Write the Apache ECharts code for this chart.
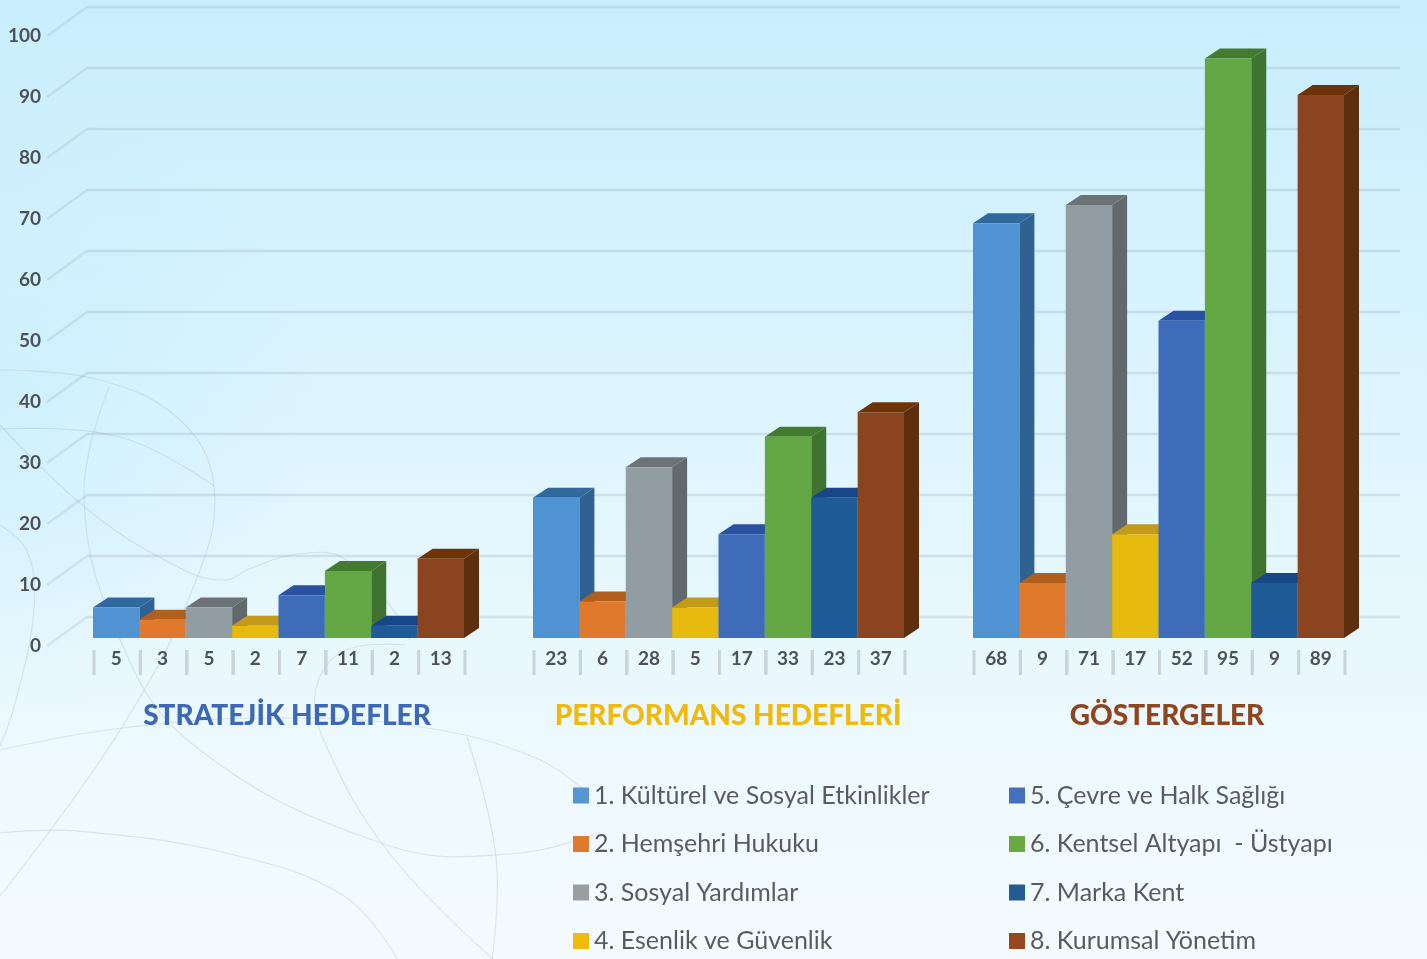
<!DOCTYPE html>
<html>
<head>
<meta charset="utf-8">
<title>Hedefler</title>
<script src="https://cdn.jsdelivr.net/npm/echarts@6/dist/echarts.min.js"></script>
<style>
html, body { margin: 0; padding: 0; background: #eaf8fe; }
#main { width: 1427px; height: 959px; }
</style>
</head>
<body>
<div id="main"></div>
<script>
// kategoriler
var categories = [
  '1. Kültürel ve Sosyal Etkinlikler',
  '2. Hemşehri Hukuku',
  '3. Sosyal Yardımlar',
  '4. Esenlik ve Güvenlik',
  '5. Çevre ve Halk Sağlığı',
  '6. Kentsel Altyapı  - Üstyapı',
  '7. Marka Kent',
  '8. Kurumsal Yönetim'
];
var groupTitles = ['STRATEJİK HEDEFLER', 'PERFORMANS HEDEFLERİ', 'GÖSTERGELER'];
var stratejik = [5, 3, 5, 2, 7, 11, 2, 13];
var performans = [23, 6, 28, 5, 17, 33, 23, 37];
var gostergeler = [68, 9, 71, 17, 52, 95, 9, 89];
var yTicks = [0, 10, 20, 30, 40, 50, 60, 70, 80, 90, 100];

var groups = [stratejik, performans, gostergeler];
var gridLefts = [93, 533, 973];
var titleCenters = [287, 728, 1167];
var titleColors = ['#3d68b5', '#f0b90f', '#8f451f'];

var legendColors = ['#5596d3', '#dd7a2f', '#9a9ea1', '#f2b90f', '#4470bd', '#6aa842', '#235c92', '#97461f'];
var frontColors = ['#4f93d2', '#e0792c', '#929da3', '#e6ba0e', '#3e6cb9', '#63a844', '#1f5b98', '#8a4520'];
var topColors = ['#31699f', '#b0601c', '#6c7376', '#c49a1a', '#2a52a0', '#437c2e', '#174689', '#6e3408'];
var sideColors = ['#2f6192', '#a85a1a', '#62696d', '#b98f14', '#274c96', '#3f7430', '#15417f', '#5e2f0c'];

// arka plandaki ince egriler
var bgCurves = [
  [[0, 370], [100, 380], [180, 420], [214, 486], [197, 578], [122, 727], [0, 896]],
  [[0, 429], [120, 437], [214, 486]],
  [[109, 387], [84, 494], [115, 628], [191, 743], [390, 846], [520, 853], [600, 832]],
  [[0, 425], [92, 513], [184, 570], [226, 580], [249, 569], [298, 554], [345, 559], [398, 616], [410, 640]],
  [[0, 525], [27, 551], [34, 609], [15, 704], [0, 746]],
  [[0, 750], [115, 729], [268, 718], [421, 727], [536, 758], [590, 795]],
  [[405, 645], [344, 651], [316, 689], [325, 743], [390, 854], [494, 960]],
  [[467, 737], [496, 857], [492, 960]],
  [[0, 833], [77, 831], [230, 854], [344, 896], [398, 960]]
];

var depthX = 15;
var depthY = -10;

function tickLine(x, y0) {
  return {
    type: 'line',
    shape: { x1: x, y1: y0 + 12, x2: x, y2: y0 + 37 },
    style: { stroke: '#c9d3d9', lineWidth: 3 }
  };
}

function renderBar(c) {
  return function (params, api) {
    var top = api.coord([api.value(0), api.value(1)]);
    var base = api.coord([api.value(0), 0]);
    var w = api.size([1, 0])[0];
    var x = top[0] - w / 2;
    var y = top[1];
    var y0 = base[1];
    return {
      type: 'group',
      children: [
        { type: 'polygon', shape: { points: [[x + w, y], [x + w + depthX, y + depthY], [x + w + depthX, y0 + depthY], [x + w, y0]] }, style: { fill: sideColors[c] } },
        { type: 'polygon', shape: { points: [[x, y], [x + depthX, y + depthY], [x + w + depthX, y + depthY], [x + w, y]] }, style: { fill: topColors[c] } },
        { type: 'rect', shape: { x: x, y: y, width: w, height: y0 - y }, style: { fill: frontColors[c] } },
        tickLine(x + 1, y0),
        tickLine(x + w + 1, y0)
      ]
    };
  };
}

function renderGridLine(params, api) {
  var y = api.coord([0, api.value(0)])[1];
  var x = params.coordSys.x;
  return {
    type: 'group',
    children: [
      {
        type: 'line',
        shape: { x1: x - 46, y1: y + 8, x2: x - 6, y2: y - 21 },
        style: { stroke: 'rgba(140,155,165,0.2)', lineWidth: 2.5 }
      },
      {
        type: 'line',
        shape: { x1: x - 6, y1: y - 21, x2: 1400, y2: y - 21 },
        style: { stroke: 'rgba(140,155,165,0.24)', lineWidth: 2.5 }
      }
    ]
  };
}

var grids = [], xAxes = [], yAxes = [], titles = [], series = [];

groups.forEach(function (values, g) {
  grids.push({ left: gridLefts[g], top: 28, width: 371, height: 610 });
  xAxes.push({
    type: 'category',
    gridIndex: g,
    data: values.map(String),
    offset: 12,
    axisLine: { show: false },
    axisTick: { show: false },
    axisLabel: {
      interval: 0,
      margin: -1,
      color: '#4c5257',
      fontFamily: 'Lato',
      fontWeight: 'bold',
      fontSize: 19
    }
  });
  yAxes.push({
    type: 'value',
    gridIndex: g,
    min: 0,
    max: 100,
    interval: 10,
    show: g === 0,
    offset: 52,
    axisLine: { show: false },
    axisTick: { show: false },
    splitLine: { show: false },
    axisLabel: {
      margin: 0,
      verticalAlign: 'top',
      lineHeight: 16,
      color: '#4c5257',
      fontFamily: 'Lato',
      fontWeight: 'bold',
      fontSize: 19
    }
  });
  titles.push({
    text: groupTitles[g],
    left: titleCenters[g],
    top: 702,
    padding: 0,
    textAlign: 'center',
    textStyle: { color: titleColors[g], fontFamily: 'Lato', fontWeight: 900, fontSize: 28 }
  });
  values.forEach(function (v, c) {
    series.push({
      type: 'custom',
      name: categories[c],
      xAxisIndex: g,
      yAxisIndex: g,
      z: 3,
      clip: false,
      silent: true,
      itemStyle: { color: legendColors[c] },
      encode: { x: 0, y: 1 },
      data: [[c, v]],
      renderItem: renderBar(c)
    });
  });
});

series.push({
  type: 'custom',
  xAxisIndex: 0,
  yAxisIndex: 0,
  z: 1,
  clip: false,
  silent: true,
  encode: { y: 0 },
  data: yTicks.map(function (t) { return [t]; }),
  renderItem: renderGridLine
});

function legendFor(names, left) {
  return {
    show: true,
    orient: 'vertical',
    left: left,
    top: 783,
    height: 176,
    padding: 0,
    itemWidth: 16,
    itemHeight: 16,
    itemGap: 23.5,
    icon: 'rect',
    selectedMode: false,
    data: names,
    textStyle: { color: '#585c5f', fontFamily: 'Lato', fontSize: 25 }
  };
}

var bgGraphics = [{
  type: 'rect',
  silent: true,
  z: -20,
  shape: { x: 0, y: 0, width: 420, height: 959 },
  style: {
    fill: {
      type: 'radial', x: 0, y: 0.42, r: 0.75,
      colorStops: [
        { offset: 0, color: 'rgba(190,235,255,0.45)' },
        { offset: 1, color: 'rgba(190,235,255,0)' }
      ]
    }
  }
}].concat(bgCurves.map(function (pts) {
  return {
    type: 'polyline',
    silent: true,
    z: -10,
    shape: { points: pts, smooth: 0.4 },
    style: { fill: null, stroke: 'rgba(170,182,192,0.32)', lineWidth: 1.2 }
  };
}));

var chart = echarts.init(document.getElementById('main'));
chart.setOption({
  animation: false,
  backgroundColor: {
    type: 'linear', x: 0, y: 0, x2: 0, y2: 1,
    colorStops: [
      { offset: 0, color: '#c8eefd' },
      { offset: 0.45, color: '#def5fd' },
      { offset: 0.75, color: '#ecf9fe' },
      { offset: 1, color: '#f4fbfe' }
    ]
  },
  graphic: bgGraphics,
  title: titles,
  grid: grids,
  xAxis: xAxes,
  yAxis: yAxes,
  legend: [legendFor(categories.slice(0, 4), 573), legendFor(categories.slice(4), 1009)],
  series: series
});
</script>
</body>
</html>
